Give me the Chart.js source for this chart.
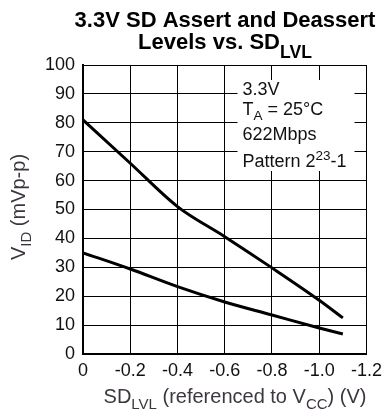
<!DOCTYPE html>
<html>
<head>
<meta charset="utf-8">
<script src="https://cdn.jsdelivr.net/npm/chart.js@4"></script>
<style>
  body { margin: 0; background: #fff; }
  #wrap { width: 388px; height: 413px; position: relative; }
</style>
</head>
<body>
<div id="wrap"><canvas id="myChart"></canvas></div>
<script>
// SD_LVL (V) sample points
var xValues = [0, -0.2, -0.4, -0.6, -0.8, -1.0, -1.1];
// assert level (upper curve), mVp-p
var assertValues = [81, 66, 51, 40.6, 29.8, 18.6, 12.5];
// deassert level (lower curve), mVp-p
var deassertValues = [35, 29.4, 23.3, 18, 13.5, 9, 6.9];
var xTicks = [0, -0.2, -0.4, -0.6, -0.8, -1.0, -1.2];
var yTicks = [0, 10, 20, 30, 40, 50, 60, 70, 80, 90, 100];

var FONT = "'Liberation Sans', Arial, sans-serif";
var LABEL = "#3d3640";

function pts(ys) {
  return xValues.map(function (x, i) { return { x: x, y: ys[i] }; });
}

// draws a run of text pieces, some as subscript / superscript
function richWidth(ctx, parts, size, bold, k) {
  var w = 0;
  parts.forEach(function (p) {
    var s = (p.sub || p.sup) ? size * k : size;
    ctx.font = (bold ? "bold " : "") + s + "px " + FONT;
    w += ctx.measureText(p.t).width;
  });
  return w;
}
function drawRich(ctx, parts, x, y, size, bold, align, k, off) {
  k = k || 0.75;
  off = off || 0.3;
  var w = richWidth(ctx, parts, size, bold, k);
  var cx = align === "center" ? x - w / 2 : x;
  ctx.textAlign = "left";
  ctx.textBaseline = "alphabetic";
  parts.forEach(function (p) {
    var s = (p.sub || p.sup) ? size * k : size;
    var dy = p.sub ? size * off : (p.sup ? -size * 0.4 : 0);
    ctx.font = (bold ? "bold " : "") + s + "px " + FONT;
    ctx.fillText(p.t, cx, y + dy);
    cx += ctx.measureText(p.t).width;
  });
}

var textPlugin = {
  id: "texts",
  afterDraw: function (chart) {
    var ctx = chart.ctx;
    var a = chart.chartArea;
    ctx.save();
    // title
    ctx.fillStyle = "#000";
    drawRich(ctx, [{ t: "3.3V SD Assert and Deassert" }], 225, 27, 22, true, "center");
    drawRich(ctx, [{ t: "Levels vs. SD" }, { t: "LVL", sub: true }], 225, 49, 22, true, "center", 0.8, 0.42);

    // note box
    var bx = a.left + (a.right - a.left) * 0.545, by = a.top + 15;
    ctx.fillStyle = "#fff";
    ctx.fillRect(bx, by, 117, 91);
    ctx.fillStyle = "#111";
    drawRich(ctx, [{ t: "3.3V" }], bx + 5, by + 15, 18, false);
    drawRich(ctx, [{ t: "T" }, { t: "A", sub: true }, { t: " = 25\u00B0C" }], bx + 5, by + 35, 18, false);
    drawRich(ctx, [{ t: "622Mbps" }], bx + 5, by + 60, 18, false);
    drawRich(ctx, [{ t: "Pattern 2" }, { t: "23", sup: true }, { t: "-1" }], bx + 5, by + 87, 18, false);

    // axis titles
    ctx.fillStyle = LABEL;
    drawRich(ctx, [{ t: "SD" }, { t: "LVL", sub: true }, { t: " (referenced to V" }, { t: "CC", sub: true }, { t: ") (V)" }],
      235, 403, 20, false, "center");
    ctx.translate(25, 207);
    ctx.rotate(-Math.PI / 2);
    drawRich(ctx, [{ t: "V" }, { t: "ID", sub: true }, { t: " (mVp-p)" }], 0, 0, 20, false, "center");
    ctx.restore();
  }
};

new Chart("myChart", {
  type: "line",
  data: {
    datasets: [
      { data: pts(assertValues), borderColor: "#000", borderWidth: 3, pointRadius: 0, cubicInterpolationMode: "monotone", fill: false },
      { data: pts(deassertValues), borderColor: "#000", borderWidth: 3, pointRadius: 0, cubicInterpolationMode: "monotone", fill: false }
    ]
  },
  options: {
    responsive: true,
    maintainAspectRatio: false,
    animation: false,
    layout: { padding: { top: 65, right: 17, left: 0, bottom: 0 } },
    plugins: { legend: { display: false }, title: { display: false }, tooltip: { enabled: false } },
    scales: {
      x: {
        type: "linear",
        min: -1.2,
        max: 0,
        reverse: true,
        afterBuildTicks: function (s) { s.ticks = xTicks.map(function (v) { return { value: v }; }); },
        afterFit: function (s) { s.height = 59; },
        ticks: {
          color: "#111",
          font: { family: FONT, size: 18 },
          padding: 6,
          maxRotation: 0,
          callback: function (v) { return v === 0 ? "0" : Number(v).toFixed(1); }
        },
        grid: { color: "#000", lineWidth: 1, drawTicks: false },
        border: { color: "#000", width: 2 }
      },
      y: {
        min: 0,
        max: 100,
        afterBuildTicks: function (s) { s.ticks = yTicks.map(function (v) { return { value: v }; }); },
        afterFit: function (s) { s.width = 83; },
        ticks: {
          color: "#111",
          font: { family: FONT, size: 18 },
          padding: 8
        },
        grid: { color: "#000", lineWidth: 1, drawTicks: false },
        border: { color: "#000", width: 2 }
      }
    }
  },
  plugins: [textPlugin]
});
</script>
</body>
</html>
